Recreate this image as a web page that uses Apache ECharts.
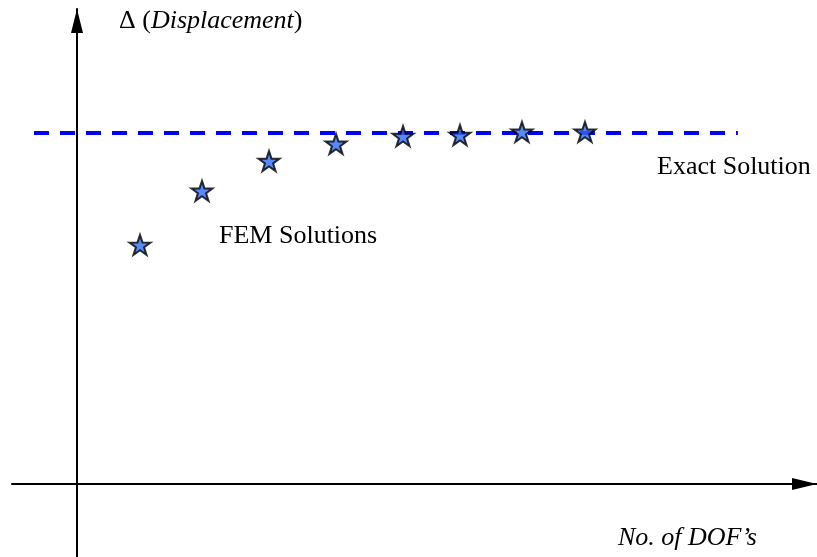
<!DOCTYPE html>
<html>
<head>
<meta charset="utf-8">
<script src="https://cdn.jsdelivr.net/npm/echarts@6/dist/echarts.min.js"></script>
<style>
html,body{margin:0;padding:0;background:#fff;}
#chart{width:817px;height:557px;}
</style>
</head>
<body>
<div id="chart"></div>
<script>
// Data (schematic)
const dofValues = [1.0, 1.984, 3.048, 4.111, 5.175, 6.079, 7.063, 8.063];
const femValues = [0.681, 0.835, 0.920, 0.969, 0.991, 0.994, 1.003, 1.003];
const exactValue = 1.0;
const exactRange = [-0.683, 10.49];
const xRange = [-1.0317, 11.746];
const yRange = [-0.208, 1.3533];
const labels = {
  yTitle: ['Δ (', 'Displacement', ')'],
  xTitle: 'No. of DOF’s',
  exact: 'Exact Solution',
  fem: 'FEM Solutions'
};

const STAR = 'path://M50,0L61.8,35.5L99,35.5L69,57.5L80.5,93L50,71L19.5,93L31,57.5L1,35.5L38.2,35.5Z';
const FONT = '"Liberation Serif", "Times New Roman", serif';

const chart = echarts.init(document.getElementById('chart'), null, {renderer: 'canvas'});
chart.setOption({
  animation: false,
  backgroundColor: '#ffffff',
  grid: {left: 12, right: 0, top: 9, bottom: 0, containLabel: false},
  xAxis: {
    type: 'value', min: xRange[0], max: xRange[1],
    axisLine: {show: true, onZero: true, lineStyle: {color: '#000', width: 2},
      symbol: ['none', 'triangle'], symbolSize: [12, 25], symbolOffset: [0, -12.5]},
    axisTick: {show: false}, axisLabel: {show: false}, splitLine: {show: false}
  },
  yAxis: {
    type: 'value', min: yRange[0], max: yRange[1],
    axisLine: {show: true, onZero: true, lineStyle: {color: '#000', width: 2},
      symbol: ['none', 'triangle'], symbolSize: [12, 24], symbolOffset: [0, -12]},
    axisTick: {show: false}, axisLabel: {show: false}, splitLine: {show: false}
  },
  series: [
    {
      type: 'line',
      data: [[exactRange[0], exactValue], [exactRange[1], exactValue]],
      symbol: 'none',
      lineStyle: {color: '#0000ff', width: 4, type: [15, 11], cap: 'butt'},
      z: 2
    },
    {
      type: 'scatter',
      data: dofValues.map((x, i) => [x, femValues[i]]),
      symbol: STAR,
      symbolSize: [21, 20],
      itemStyle: {color: '#2f6cf5', borderColor: '#000', borderWidth: 2},
      z: 3
    }
  ],
  graphic: [
    {type: 'text', left: 119, top: 8, style: {
      text: '{n|' + labels.yTitle[0] + '}{i|' + labels.yTitle[1] + '}{n|' + labels.yTitle[2] + '}',
      rich: {
        n: {fontFamily: FONT, fontSize: 26, fill: '#000'},
        i: {fontFamily: FONT, fontSize: 26, fontStyle: 'italic', fill: '#000'}
      }
    }},
    {type: 'text', left: 657, top: 154, style: {text: labels.exact, font: '26px ' + FONT, fill: '#000'}},
    {type: 'text', left: 219, top: 223, style: {text: labels.fem, font: '26px ' + FONT, fill: '#000'}},
    {type: 'text', left: 618, top: 525, style: {text: labels.xTitle, font: 'italic 26px ' + FONT, fill: '#000'}}
  ]
});
</script>
</body>
</html>
